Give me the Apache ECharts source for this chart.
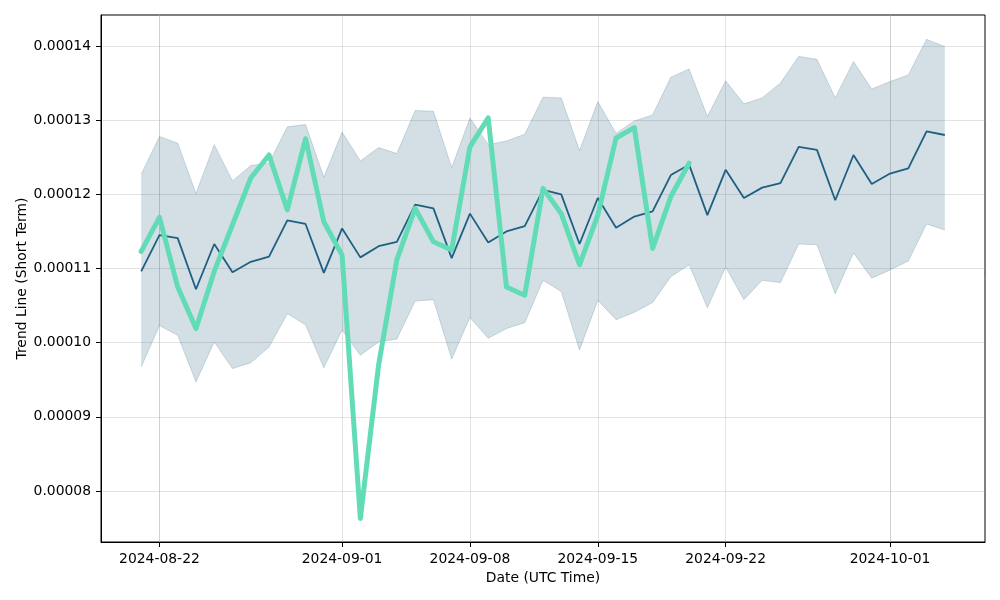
<!DOCTYPE html>
<html>
<head>
<meta charset="utf-8">
<script src="https://cdn.jsdelivr.net/npm/echarts@6/dist/echarts.min.js"></script>
<style>html,body{margin:0;padding:0;background:#fff}#c{width:1000px;height:600px}</style>
</head>
<body>
<div id="c"></div>
<script>
const startDate = '2024-08-21';
const xTickLabels = ['2024-08-22', '2024-09-01', '2024-09-08', '2024-09-15', '2024-09-22', '2024-10-01'];
const yTickValues = [0.00008, 0.00009, 0.00010, 0.00011, 0.00012, 0.00013, 0.00014];

// Mean trend (dark line), 2024-08-21 .. 2024-10-04
const meanLine = [10.96, 11.45, 11.41, 10.72, 11.33, 10.95, 11.09, 11.16, 11.65, 11.60,
  10.94, 11.54, 11.15, 11.30, 11.36, 11.86, 11.81, 11.14, 11.74, 11.35,
  11.50, 11.57, 12.06, 12.00, 11.33, 11.95, 11.55, 11.70, 11.77, 12.26,
  12.40, 11.72, 12.33, 11.95, 12.09, 12.15, 12.64, 12.60, 11.92, 12.53,
  12.14, 12.28, 12.35, 12.85, 12.80];
// Upper band
const upperBand = [12.27, 12.78, 12.69, 12.01, 12.67, 12.18, 12.39, 12.42, 12.91, 12.94,
  12.23, 12.84, 12.45, 12.63, 12.55, 13.13, 13.12, 12.36, 13.03, 12.67,
  12.72, 12.81, 13.31, 13.30, 12.59, 13.25, 12.82, 12.99, 13.07, 13.58,
  13.69, 13.05, 13.53, 13.22, 13.30, 13.50, 13.86, 13.82, 13.30, 13.79,
  13.42, 13.52, 13.61, 14.09, 13.99];
// Lower band
const lowerBand = [9.67, 10.23, 10.10, 9.47, 10.01, 9.65, 9.73, 9.94, 10.39, 10.24,
  9.66, 10.17, 9.83, 10.01, 10.05, 10.56, 10.58, 9.78, 10.34, 10.06,
  10.19, 10.27, 10.84, 10.69, 9.90, 10.57, 10.31, 10.41, 10.54, 10.89,
  11.05, 10.47, 11.02, 10.58, 10.84, 10.81, 11.33, 11.32, 10.66, 11.21,
  10.87, 10.98, 11.10, 11.60, 11.52];
// Actual short-term trend (green), 2024-08-21 .. 2024-09-20
const shortTrend = [11.23, 11.69, 10.75, 10.19, 10.96, 11.59, 12.22, 12.53, 11.79, 12.75,
  11.63, 11.18, 7.63, 9.70, 11.12, 11.81, 11.36, 11.25, 12.64, 13.03,
  10.75, 10.64, 12.08, 11.74, 11.05, 11.72, 12.76, 12.90, 11.27, 11.97,
  12.42];
const SCALE = 1e-5;

const DAY = 86400000;
function parseLocal(s) { const p = s.split('-').map(Number); return new Date(p[0], p[1] - 1, p[2]).getTime(); }
const t0 = parseLocal(startDate);
const dates = meanLine.map((_, i) => t0 + i * DAY);
const tEnd = dates[dates.length - 1];
const pad = (tEnd - t0) * 0.05;

const pair = (arr) => arr.map((v, i) => [dates[i], v * SCALE]);
const bandDiff = upperBand.map((v, i) => [dates[i], (v - lowerBand[i]) * SCALE]);

const bandColor = 'rgba(35,96,127,0.2)';
const font = 'DejaVu Sans';

const chart = echarts.init(document.getElementById('c'), null, { renderer: 'canvas' });
chart.setOption({
  animation: false,
  backgroundColor: '#fff',
  grid: { left: 101, right: 15, top: 15, bottom: 58, show: true, borderColor: '#000', borderWidth: 1, backgroundColor: 'transparent' },
  xAxis: {
    type: 'time',
    min: t0 - pad, max: tEnd + pad,
    name: 'Date (UTC Time)', nameLocation: 'middle', nameGap: 29, nameMoveOverlap: false,
    nameTextStyle: { fontFamily: font, fontSize: 13.9, color: '#000' },
    axisLine: { show: true, lineStyle: { color: '#000', width: 1 } },
    axisTick: { show: true, length: 5, lineStyle: { color: '#000' }, customValues: xTickLabels },
    axisLabel: { color: '#000', fontFamily: font, fontSize: 13.9, margin: 10, customValues: xTickLabels,
      formatter: '{yyyy}-{MM}-{dd}' , showMinLabel: true, showMaxLabel: true},
    splitLine: { show: true, lineStyle: { color: 'rgba(176,176,176,0.35)', width: 1 } },
    minorTick: { show: false }
  },
  yAxis: {
    type: 'value',
    min: 7.312 * SCALE, max: 14.418 * SCALE,
    name: 'Trend Line (Short Term)', nameLocation: 'middle', nameGap: 72, nameRotate: 90, nameMoveOverlap: false,
    nameTextStyle: { fontFamily: font, fontSize: 13.9, color: '#000' },
    axisLine: { show: true, lineStyle: { color: '#000', width: 1 } },
    axisTick: { show: true, length: 5, lineStyle: { color: '#000' }, customValues: yTickValues },
    axisLabel: { color: '#000', fontFamily: font, fontSize: 13.9, margin: 10, customValues: yTickValues,
      formatter: v => v.toFixed(5) },
    splitLine: { show: true, lineStyle: { color: 'rgba(176,176,176,0.35)', width: 1 } }
  },
  series: [
    { type: 'line', name: 'lower', data: pair(lowerBand), stack: 'band', symbol: 'none',
      lineStyle: { color: bandColor, width: 1 }, z: 1 },
    { type: 'line', name: 'band', data: bandDiff, stack: 'band', symbol: 'none',
      lineStyle: { color: bandColor, width: 1 }, areaStyle: { color: bandColor, opacity: 1, origin: 'auto' }, z: 1 },
    { type: 'line', name: 'mean', data: pair(meanLine), symbol: 'none',
      lineStyle: { color: '#1f5f80', width: 1.8 }, z: 3 },
    { type: 'line', name: 'short', data: pair(shortTrend), symbol: 'none',
      lineStyle: { color: '#62dcb7', width: 5, cap: 'round', join: 'round' }, z: 4 }
  ]
});
</script>
</body>
</html>
